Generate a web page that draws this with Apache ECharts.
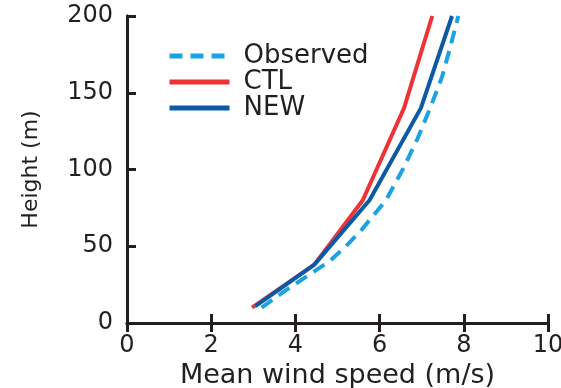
<!DOCTYPE html>
<html>
<head>
<meta charset="utf-8">
<script src="https://cdn.jsdelivr.net/npm/echarts@6/dist/echarts.min.js"></script>
<style>html,body{margin:0;padding:0;background:#fff;}#c{width:561px;height:388px;}</style>
</head>
<body>
<div id="c"></div>
<script>
var seriesNames = ['Observed', 'CTL', 'NEW'];
var obsHeight = [10, 20, 30, 40, 50, 60, 80, 100, 120, 140, 160, 180, 200];
var obsSpeed  = [3.2, 3.7, 4.25, 4.8, 5.2, 5.55, 6.15, 6.55, 6.9, 7.2, 7.48, 7.68, 7.87];
var ctlHeight = [10, 38, 80, 140, 200];
var ctlSpeed  = [2.97, 4.45, 5.6, 6.58, 7.25];
var newHeight = [11, 38, 80, 140, 200];
var newSpeed  = [3.05, 4.45, 5.76, 6.98, 7.72];
var xTicks = [0, 2, 4, 6, 8, 10];
var yTicks = [0, 50, 100, 150, 200];

function pairs(xs, ys) { return xs.map(function (x, i) { return [x, ys[i]]; }); }

var FONT = '"DejaVu Sans", sans-serif';
var INK = '#231f20';
var chart = echarts.init(document.getElementById('c'));
chart.setOption({
  animation: false,
  grid: { left: 127, right: 13, top: 16, bottom: 65, containLabel: false, outerBoundsMode: 'none' },
  legend: {
    orient: 'vertical', left: 162, top: 38, itemWidth: 60, itemHeight: 14, itemGap: 0,
    itemStyle: { opacity: 0 },
    lineStyle: { width: 5 },
    textStyle: { fontFamily: FONT, fontSize: 26, lineHeight: 22, color: INK, padding: [0, 0, 0, 9] },
    data: seriesNames
  },
  xAxis: [{
    type: 'value', min: 0, max: 10, interval: 2, position: 'bottom',
    name: 'Mean wind speed (m/s)', nameLocation: 'middle', nameGap: 37,
    nameTextStyle: { fontFamily: FONT, fontSize: 27, color: INK },
    axisLine: { lineStyle: { color: INK, width: 3 } },
    axisTick: { inside: true, length: 9, lineStyle: { color: INK, width: 3 } },
    axisLabel: { fontFamily: FONT, fontSize: 24, color: INK, margin: 11,
      formatter: function (v) { return xTicks.indexOf(v) >= 0 ? String(v) : ''; } },
    splitLine: { show: false }
  }, {
    type: 'value', min: 0, max: 10, interval: 2, position: 'top',
    axisLine: { lineStyle: { color: INK, width: 3 } },
    axisTick: { inside: true, length: 9, lineStyle: { color: INK, width: 3 } },
    axisLabel: { show: false }, splitLine: { show: false }
  }],
  yAxis: [{
    type: 'value', min: 0, max: 200, interval: 50, position: 'left',
    name: 'Height (m)', nameLocation: 'middle', nameGap: 85, nameRotate: 90,
    nameTextStyle: { fontFamily: FONT, fontSize: 22, color: INK },
    axisLine: { lineStyle: { color: INK, width: 3 } },
    axisTick: { inside: true, length: 9, lineStyle: { color: INK, width: 3 } },
    axisLabel: { fontFamily: FONT, fontSize: 24, color: INK, margin: 14,
      formatter: function (v) { return yTicks.indexOf(v) >= 0 ? String(v) : ''; } },
    splitLine: { show: false }
  }, {
    type: 'value', min: 0, max: 200, interval: 50, position: 'right',
    axisLine: { show: true, lineStyle: { color: INK, width: 3 } },
    axisTick: { show: false }, axisLabel: { show: false }, splitLine: { show: false }
  }],
  series: [{
    name: 'Observed', type: 'line', symbol: 'none', xAxisIndex: 0, yAxisIndex: 0,
    data: pairs(obsSpeed, obsHeight),
    itemStyle: { color: '#1aa3e3' },
    lineStyle: { color: '#1aa3e3', width: 4, type: [13, 8] }
  }, {
    name: 'CTL', type: 'line', symbol: 'none', xAxisIndex: 0, yAxisIndex: 0,
    data: pairs(ctlSpeed, ctlHeight),
    itemStyle: { color: '#ee3338' },
    lineStyle: { color: '#ee3338', width: 4 }
  }, {
    name: 'NEW', type: 'line', symbol: 'none', xAxisIndex: 0, yAxisIndex: 0,
    data: pairs(newSpeed, newHeight),
    itemStyle: { color: '#0b5aa6' },
    lineStyle: { color: '#0b5aa6', width: 4 }
  }]
});
</script>
</body>
</html>
